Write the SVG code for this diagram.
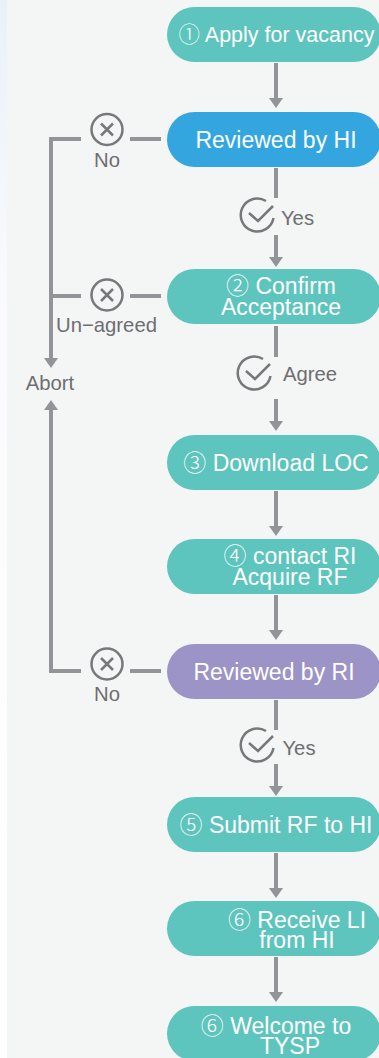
<svg xmlns="http://www.w3.org/2000/svg" width="379" height="1058" viewBox="0 0 379 1058">
<defs>
<linearGradient id="edge" x1="0" y1="0" x2="0" y2="1"><stop offset="0" stop-color="#e9f1f8"/><stop offset="0.3" stop-color="#fbfbfd"/><stop offset="1" stop-color="#ffffff"/></linearGradient>
<g id="cross"><circle cx="0" cy="0" r="15.500" class="ic"/><path d="M-6 -6L6 6M6 -6L-6 6" class="ic" stroke-width="3"/></g>
<g id="check"><path d="M9 -14A16.500 16.500 0 1 0 16.500 3" class="ic"/><path d="M-8 -2L1 6L16 -9" class="ic"/></g>
<path id="head" d="M-7 0H7L0 10Z" fill="#929497"/>
</defs>
<style>
.n{font-family:"Liberation Sans","Noto Sans CJK SC",sans-serif;font-size:23px;fill:#fff;text-anchor:middle}
.d{font-family:"Noto Sans CJK SC","Liberation Serif",serif;font-weight:300}
.l{font-family:"Liberation Sans",sans-serif;font-size:20.300px;fill:#6d6e71;text-anchor:middle}
.c{fill:none;stroke:#929497;stroke-width:4}
.ic{fill:none;stroke:#77787b;stroke-width:2.500}
.t{fill:#5dc5bd}
</style>
<rect width="379" height="1058" fill="#f4f5f5"/>
<rect width="7" height="1058" fill="url(#edge)"/>
<g id="connectors">
<path class="c" d="M276 63V100M276 168V198M276 235V259M276 326V357M276 399V423M276 491V527M276 595V632M276 700V730M276 764V788M276 853V890M276 957V994"/>
<path class="c" d="M81 139H51V358M81 296H51M81 671H51V410"/>
<path class="c" d="M130 139H161M130 296H161M130 671H161"/>
<use href="#head" x="276" y="98"/><use href="#head" x="276" y="257"/><use href="#head" x="276" y="421"/><use href="#head" x="276" y="526"/><use href="#head" x="276" y="630"/><use href="#head" x="276" y="786"/><use href="#head" x="276" y="888"/><use href="#head" x="276" y="992"/>
<use href="#head" x="51" y="358"/><use href="#head" transform="translate(51 410) scale(1 -1)"/>
</g>
<g id="cross1"><use href="#cross" x="107" y="129.500"/><text class="l" x="107" y="167">No</text></g>
<g id="cross2"><use href="#cross" x="107" y="295"/><text class="l" x="106.500" y="332">Un−agreed</text></g>
<g id="cross3"><use href="#cross" x="107" y="664"/><text class="l" x="107" y="701">No</text></g>
<g id="abort"><text class="l" x="50" y="390">Abort</text></g>
<g id="yes1"><use href="#check" x="257" y="215"/><text class="l" x="297.500" y="225">Yes</text></g>
<g id="agree"><use href="#check" x="254" y="373"/><text class="l" x="310" y="381">Agree</text></g>
<g id="yes2"><use href="#check" x="257" y="745"/><text class="l" x="299" y="755">Yes</text></g>
<g id="n1"><rect class="t" x="167" y="7" width="214" height="55" rx="27.500"/><text class="n" x="276.500" y="42" font-size="21.500" style="font-size:21.500px"><tspan class="d">①</tspan> Apply for vacancy</text></g>
<g id="n2"><rect x="167" y="112" width="214" height="55" rx="27.500" fill="#33a6df"/><text class="n" x="276" y="148">Reviewed by HI</text></g>
<g id="n3"><rect class="t" x="167" y="269" width="214" height="55" rx="27.500"/><text class="n" x="281" y="294"><tspan class="d">②</tspan> Confirm</text><text class="n" x="281" y="315">Acceptance</text></g>
<g id="n4"><rect class="t" x="167" y="435" width="214" height="55" rx="27.500"/><text class="n" x="276" y="471"><tspan class="d">③</tspan> Download LOC</text></g>
<g id="n5"><rect class="t" x="167" y="539" width="214" height="55" rx="27.500"/><text class="n" x="290" y="564"><tspan class="d">④</tspan> contact RI</text><text class="n" x="290" y="585">Acquire RF</text></g>
<g id="n6"><rect x="167" y="644" width="214" height="55" rx="27.500" fill="#9c93c7"/><text class="n" x="274" y="680">Reviewed by RI</text></g>
<g id="n7"><rect class="t" x="167" y="797" width="214" height="55" rx="27.500"/><text class="n" x="276" y="833"><tspan class="d">⑤</tspan> Submit RF to HI</text></g>
<g id="n8"><rect class="t" x="167" y="901" width="214" height="55" rx="27.500"/><text class="n" x="297" y="928"><tspan class="d">⑥</tspan> Receive LI</text><text class="n" x="297" y="948">from HI</text></g>
<g id="n9"><rect class="t" x="167" y="1006" width="214" height="55" rx="27.500"/><text class="n" x="276" y="1034"><tspan class="d">⑥</tspan> Welcome to</text><text class="n" x="290" y="1054">TYSP</text></g>
</svg>
